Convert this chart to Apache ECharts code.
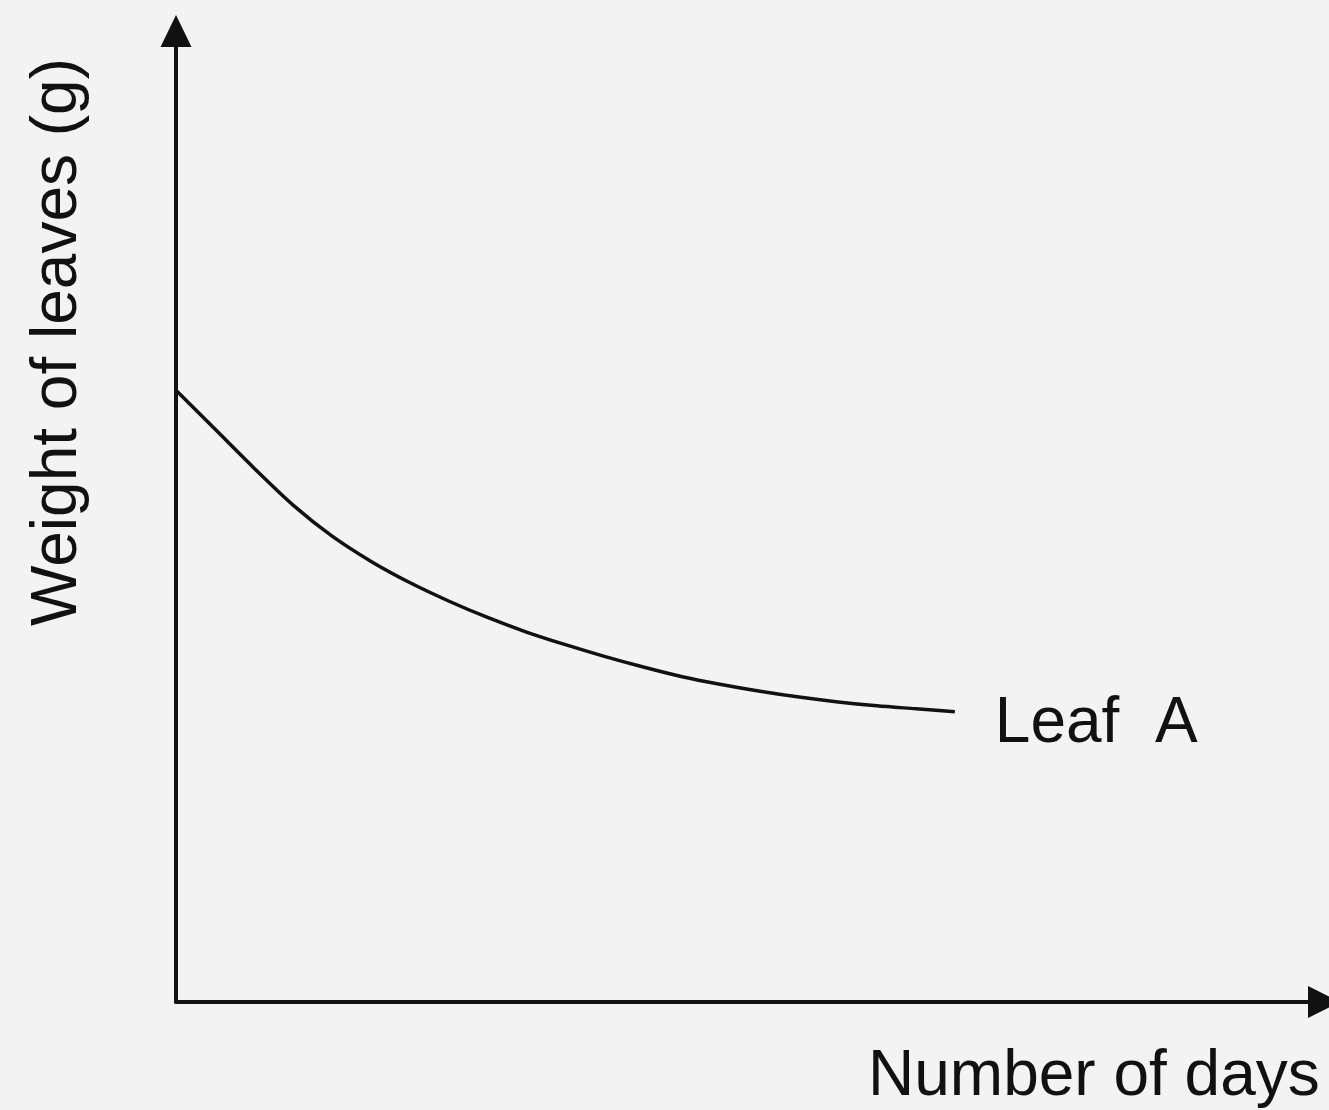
<!DOCTYPE html>
<html>
<head>
<meta charset="utf-8">
<title>Weight of leaves</title>
<script src="https://cdn.jsdelivr.net/npm/echarts@6/dist/echarts.min.js"></script>
<style>
  html, body { margin: 0; padding: 0; background: #f3f3f3; }
  #chart { width: 1329px; height: 1110px; }
</style>
</head>
<body>
<div id="chart"></div>
<script>
// Days since picking (half-day steps) and the weight of leaf A at each step (g)
const days = [0, 0.5, 1, 1.5, 2, 2.5, 3, 3.5, 4, 4.5, 5, 5.5, 6, 6.5, 7, 7.5, 8, 8.5, 9, 9.5, 10];
const leafA = [63.0, 59.0, 55.0, 51.2, 48.0, 45.4, 43.2, 41.3, 39.6, 38.1, 36.8,
               35.6, 34.5, 33.5, 32.7, 32.0, 31.4, 30.9, 30.5, 30.2, 29.9];
const seriesName = 'Leaf  A';
const xTitle = 'Number of days';
const yTitle = 'Weight of leaves (g)';

const ink = '#111';
const font = '"Liberation Sans", Arial, Helvetica, sans-serif';

const chart = echarts.init(document.getElementById('chart'), null, { renderer: 'canvas' });

chart.setOption({
  backgroundColor: '#f3f3f3',
  animation: false,
  grid: { left: 176, right: 5, top: 31, bottom: 108, containLabel: false },
  xAxis: {
    type: 'value',
    min: 0,
    max: 14.74,
    axisLine: {
      show: true,
      symbol: ['none', 'triangle'],
      symbolSize: [32, 32],
      lineStyle: { color: ink, width: 4 }
    },
    axisTick: { show: false },
    axisLabel: { show: false },
    splitLine: { show: false }
  },
  yAxis: {
    type: 'value',
    min: 0,
    max: 100,
    axisLine: {
      show: true,
      symbol: ['none', 'triangle'],
      symbolSize: [31, 32],
      lineStyle: { color: ink, width: 4 }
    },
    axisTick: { show: false },
    axisLabel: { show: false },
    splitLine: { show: false }
  },
  series: [{
    name: seriesName,
    type: 'line',
    data: days.map((d, i) => [d, leafA[i]]),
    smooth: 0.3,
    showSymbol: false,
    lineStyle: { color: ink, width: 3.5 },
    endLabel: {
      show: true,
      formatter: seriesName,
      color: ink,
      fontFamily: font,
      fontSize: 64,
      distance: 40,
      offset: [0, 13]
    }
  }],
  graphic: [
    {
      type: 'text',
      left: 868,
      top: 1045,
      style: {
        text: xTitle,
        fill: ink,
        font: '64px ' + font
      }
    },
    {
      type: 'text',
      x: 58,
      y: 342,
      rotation: Math.PI / 2,
      style: {
        text: yTitle,
        fill: ink,
        font: '64px ' + font,
        align: 'center',
        verticalAlign: 'middle'
      }
    }
  ]
});
</script>
</body>
</html>
